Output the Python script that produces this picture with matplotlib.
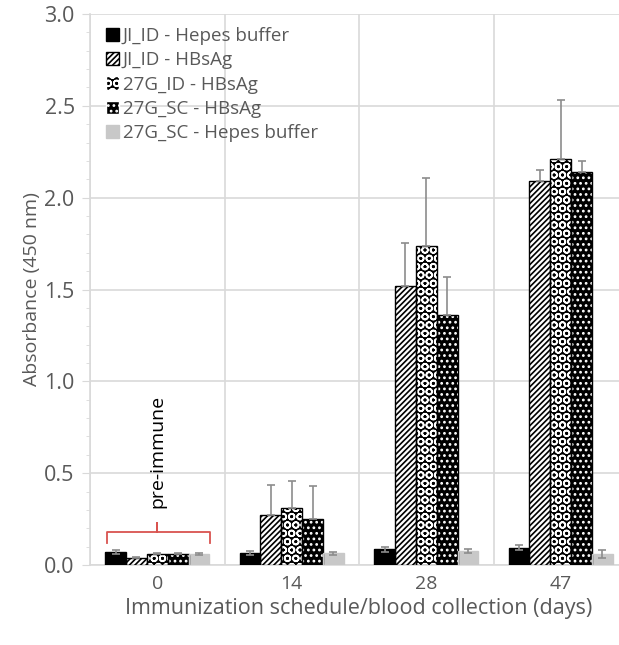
import matplotlib
matplotlib.use("Agg")
from matplotlib import pyplot as plt
from matplotlib.ticker import MultipleLocator, FormatStrFormatter
from matplotlib.patches import Patch
import numpy as np

plt.rcParams['font.family'] = ['Open Sans', 'DejaVu Sans']
plt.rcParams['hatch.linewidth'] = 1.2

days = ['0', '14', '28', '47']
series = ['JI_ID - Hepes buffer', 'JI_ID - HBsAg', '27G_ID - HBsAg',
          '27G_SC - HBsAg', '27G_SC - Hepes buffer']
vals = [
    [0.070, 0.065, 0.085, 0.095],
    [0.040, 0.270, 1.520, 2.090],
    [0.060, 0.310, 1.735, 2.210],
    [0.060, 0.250, 1.360, 2.140],
    [0.060, 0.065, 0.075, 0.060],
]
errs = [
    [0.010, 0.010, 0.012, 0.012],
    [0.005, 0.165, 0.235, 0.060],
    [0.005, 0.150, 0.370, 0.320],
    [0.005, 0.180, 0.210, 0.060],
    [0.005, 0.008, 0.010, 0.020],
]
# face, hatch, hatch colour
styles = [
    ('black', None, 'black'),
    ('white', '//////', 'black'),
    ('black', 'OO', 'white'),
    ('black', '...', 'white'),
    ('#c8c8c8', None, '#c8c8c8'),
]

txt = '#595959'
grid = '#d9d9d9'

fig = plt.figure(figsize=(6.19, 6.45), dpi=100)
ax = fig.add_axes([90/619, 1-565/645, 538/619, 551/645])

x = np.arange(len(days))
w = 0.155
for i, (v, e) in enumerate(zip(vals, errs)):
    pos = x + (i - 2) * w
    fc, h, hc = styles[i]
    ax.bar(pos, v, w, color=fc, edgecolor=hc, hatch=h, linewidth=0, zorder=3)
    ax.bar(pos, v, w, fill=False, edgecolor='black' if i < 4 else '#c8c8c8',
           linewidth=1.0, zorder=4)
    lo = [ee if i in (0, 4) else 0 for ee in e]
    ax.errorbar(pos, v, yerr=[lo, e], fmt='none', ecolor='#8c8c8c',
                elinewidth=1.2, capsize=3, capthick=1.2, zorder=5)

handles = []
for i, name in enumerate(series):
    fc, h, hc = styles[i]
    handles.append(Patch(facecolor=fc, edgecolor=hc if i != 0 else 'black',
                         hatch=h, label=name))
leg = ax.legend(handles=handles, loc='upper left', bbox_to_anchor=(0.005, 1.0),
                frameon=False, fontsize=13.5, handlelength=0.7, handleheight=0.7,
                handletextpad=0.2, labelspacing=0.33, borderaxespad=0.3)
for t in leg.get_texts():
    t.set_color(txt)

ax.set_xlim(-0.5, 3.5)
ax.set_ylim(0, 3.0)
ax.set_xticks(x)
ax.set_xticklabels(days)
ax.set_xticks(np.arange(-0.5, 4, 1), minor=True)
ax.yaxis.set_major_locator(MultipleLocator(0.5))
ax.yaxis.set_minor_locator(MultipleLocator(0.1))
ax.yaxis.set_major_formatter(FormatStrFormatter('%.1f'))
ax.yaxis.grid(True, which='major', color=grid, linewidth=1.2, zorder=0)
ax.xaxis.grid(True, which='minor', color=grid, linewidth=1.2, zorder=0)
ax.tick_params(axis='x', which='both', length=0, colors=txt, labelsize=14, pad=7)
ax.tick_params(axis='y', which='major', length=6, color=grid, labelcolor=txt,
               labelsize=15.5, pad=5)
ax.tick_params(axis='y', which='minor', length=3, color=grid)
for s in ['top', 'right']:
    ax.spines[s].set_visible(False)
for s in ['left', 'bottom']:
    ax.spines[s].set_color(grid)
    ax.spines[s].set_linewidth(1.2)

ax.set_ylabel('Absorbance (450 nm)', color=txt, fontsize=14, labelpad=2)
ax.set_xlabel('Immunization schedule/blood collection (days)', color=txt,
              fontsize=15.5, labelpad=4)

# bracket for pre-immune group
bx0, bx1, by0, by1 = -0.37, 0.39, 0.12, 0.18
red = '#d9534f'
ax.plot([bx0, bx0, 0.0, 0.0, 0.0, bx1, bx1],
        [by0, by1, by1, by1 + 0.05, by1, by1, by0], color=red, lw=1.3, zorder=6)
ax.text(0.0, 0.62, 'pre-immune', rotation=90, ha='center', va='center',
        fontsize=14, color='black')

fig.savefig('out.png', dpi=100)
